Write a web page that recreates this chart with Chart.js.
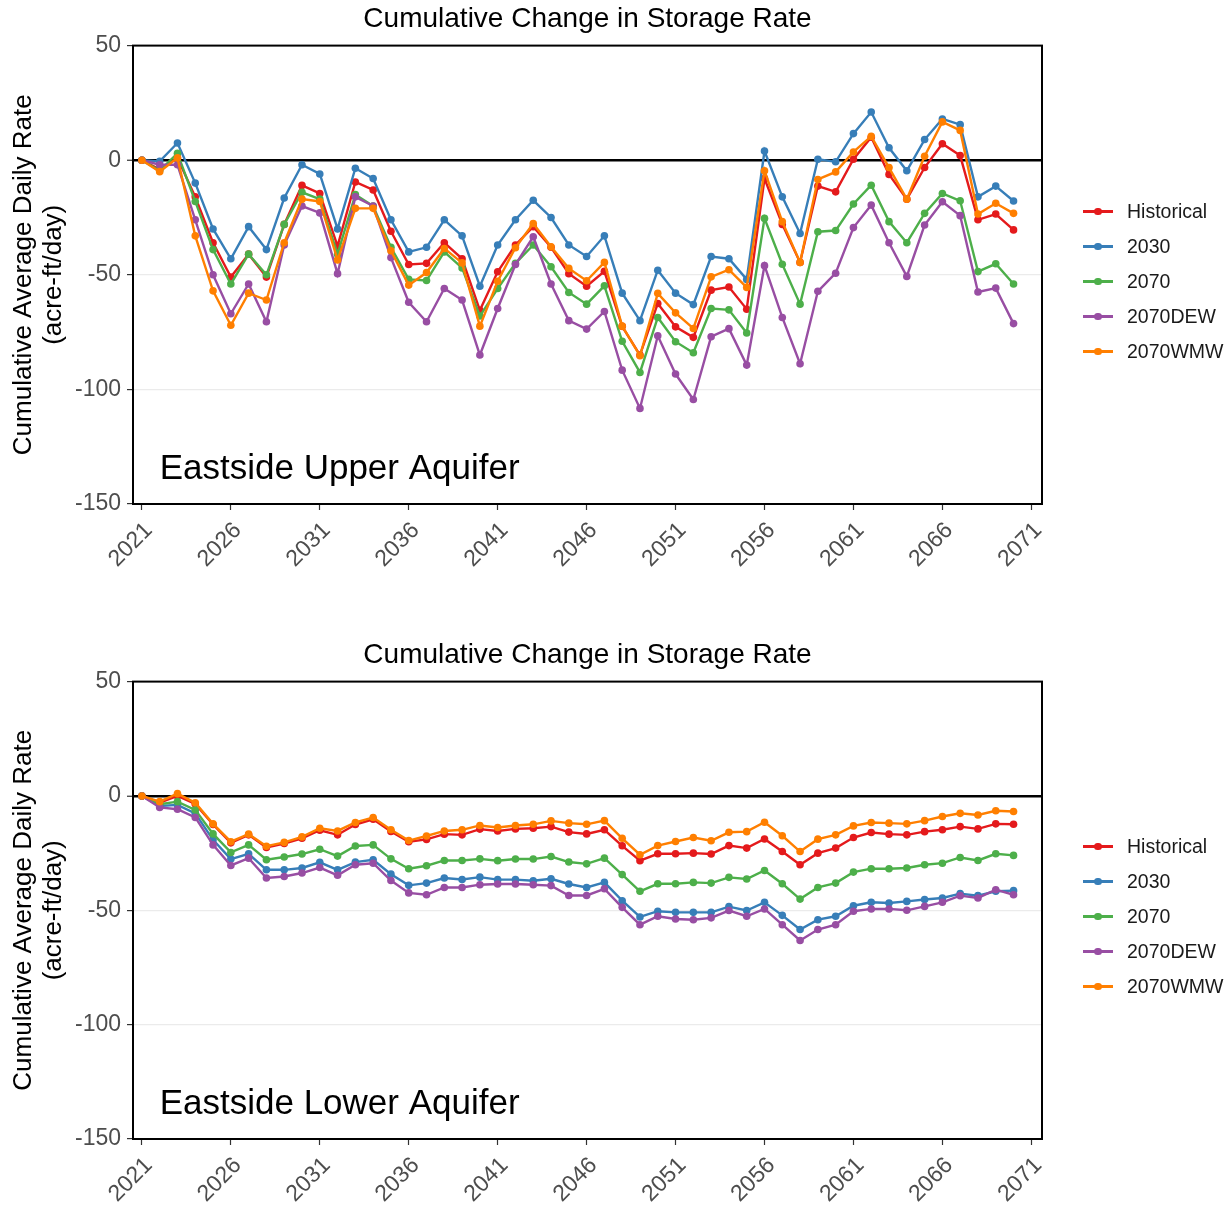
<!DOCTYPE html>
<html>
<head>
<meta charset="utf-8">
<script src="https://cdn.jsdelivr.net/npm/chart.js@4.4.1/dist/chart.umd.min.js"></script>
<style>
    body { margin: 0; background: #fff; font-family: "Liberation Sans", Arial, sans-serif; }
    .panel { position: absolute; left: 0; width: 1230px; }
    .legend { position: absolute; left: 1083px; font-size: 19.5px; color: #1a1a1a; }
    .legend-item { position: absolute; left: 0; height: 24px; width: 150px; white-space: nowrap; }
    .legend-line { position: absolute; left: 0; top: 11px; width: 30px; height: 2.5px; }
    .legend-dot { position: absolute; left: 11px; top: 8.5px; width: 7.5px; height: 7.5px; border-radius: 50%; }
    .legend-text { position: absolute; left: 44px; top: 0; line-height: 24px; }
</style>
</head>
<body>
<div class="panel" style="top:0;height:600px;"><canvas id="upperChart" width="1230" height="600"></canvas></div>
<div class="legend" id="upperLegend" style="top:199px;"></div>
<div class="panel" style="top:636px;height:569px;"><canvas id="lowerChart" width="1230" height="569"></canvas></div>
<div class="legend" id="lowerLegend" style="top:834px;"></div>

<script>
// years 2021..2070, one value per year
const years = [
    2021, 2022, 2023, 2024, 2025, 2026, 2027, 2028, 2029, 2030,
    2031, 2032, 2033, 2034, 2035, 2036, 2037, 2038, 2039, 2040,
    2041, 2042, 2043, 2044, 2045, 2046, 2047, 2048, 2049, 2050,
    2051, 2052, 2053, 2054, 2055, 2056, 2057, 2058, 2059, 2060,
    2061, 2062, 2063, 2064, 2065, 2066, 2067, 2068, 2069, 2070
];
const xTicks = [2021, 2026, 2031, 2036, 2041, 2046, 2051, 2056, 2061, 2066, 2071];
const yTicks = [50, 0, -50, -100, -150];
const seriesNames = ['Historical', '2030', '2070', '2070DEW', '2070WMW'];

// Eastside Upper Aquifer
const upperHistorical = [
    0, -4, 1, -16, -36, -51, -41, -51, -28, -11,
    -14.5, -37.5, -9.5, -13, -31, -45.5, -45, -36, -43, -65.5,
    -48.7, -37, -29, -38, -49.5, -55, -48.5, -72.5, -85, -62.5,
    -72.7, -77.3, -56.7, -55.3, -65, -8, -28, -44.6, -11.3, -13.8,
    0.4, 10, -6.2, -17, -3.2, 7.2, 2, -26, -23.5, -30.4
];
const upper2030 = [
    0, -0.5, 7.5, -10, -30, -43, -29, -39, -16.5, -2,
    -6, -30, -3.5, -8, -26, -40, -38, -26, -33, -55,
    -37, -26, -17.5, -25, -37, -42, -33, -58, -70, -48,
    -58, -63, -42, -43, -52, 4, -16, -32, 0.4, -0.7,
    11.6, 21, 5.4, -4.6, 9, 18, 15.5, -16, -11.3, -17.8
];
const upper2070 = [
    0, -4.5, 3, -18, -39, -54, -41, -50, -28, -14,
    -17, -41, -15, -20, -38, -52, -52.5, -40, -47, -68,
    -56, -45, -37, -46.5, -57.7, -62.8, -54.8, -79, -92.6, -68.6,
    -79.2, -84, -64.7, -65.3, -75.4, -25.4, -45.4, -62.8, -31.2, -30.7,
    -19.1, -10.9, -26.8, -36, -23.2, -14.5, -17.7, -48.6, -45.2, -54
];
const upper2070DEW = [
    0, -2, -2, -26, -50, -67, -54, -70.5, -37, -20,
    -23, -49.5, -16, -20, -42.5, -62, -70.5, -56, -61, -85,
    -64.7, -45.5, -33.4, -54, -70, -73.7, -66, -91.6, -108.3, -76.6,
    -93.3, -104.4, -77, -73.5, -89.4, -46, -68.6, -88.8, -57.2, -49.3,
    -29.4, -19.6, -36, -50.7, -28.3, -18.1, -24.2, -57.5, -55.8, -71.3
];
const upper2070WMW = [
    0, -5, 1, -33, -57, -72, -58, -61, -36, -17,
    -18, -43.5, -21, -21, -39.5, -54.5, -49, -38.5, -44.8, -72.4,
    -52.8, -38.2, -27.6, -37.8, -47.2, -52.6, -44.6, -72.4, -85.3, -58.1,
    -66.6, -73.4, -50.9, -47.8, -55.5, -4.6, -26.8, -44.6, -8.4, -5.1,
    3.6, 10.4, -3.2, -17, 1.7, 16.7, 13, -23.5, -18.8, -23.2
];

// Eastside Lower Aquifer
const lowerHistorical = [
    0, -3, 0, -3.5, -12.5, -20.5, -17, -22.5, -20.8, -18.5,
    -15, -17, -12.5, -10.2, -15.5, -20, -19, -16.7, -17, -14.5,
    -15.3, -14.4, -14.1, -13.4, -15.8, -16.6, -14.8, -21.8, -28.3, -25.3,
    -25.3, -25, -25.4, -21.7, -22.8, -18.8, -24.3, -30.1, -25, -22.8,
    -18.2, -16, -16.7, -17, -15.6, -14.8, -13.4, -14.4, -12.2, -12.4
];
const lower2030 = [
    0, -4.4, -3.9, -7.6, -19.2, -27.6, -25.3, -32.3, -32.3, -31.5,
    -29, -32.3, -28.9, -27.9, -34.2, -39.1, -38.1, -35.9, -36.5, -35.5,
    -36.6, -36.6, -37.1, -36.2, -38.5, -40, -37.8, -45.8, -52.9, -50.4,
    -50.9, -50.9, -50.9, -48.4, -50.1, -46.5, -52.2, -58.4, -54.1, -52.6,
    -48, -46.5, -46.8, -46.1, -45.3, -44.6, -42.7, -43.6, -41.7, -41.4
];
const lower2070 = [
    0, -3.6, -2.5, -6.1, -16.6, -24.7, -21.4, -27.9, -26.7, -25.4,
    -23.3, -26.3, -21.9, -21.4, -27.5, -31.8, -30.5, -28.2, -28.2, -27.5,
    -28.3, -27.6, -27.6, -26.5, -28.9, -29.7, -27.2, -34.4, -41.7, -38.4,
    -38.4, -37.8, -38.1, -35.6, -36.3, -32.6, -38.4, -45.1, -40, -38.1,
    -33.3, -31.8, -31.8, -31.5, -30.1, -29.4, -26.9, -28.2, -25.3, -26
];
const lower2070DEW = [
    0, -5, -5.8, -9.4, -21.4, -30.4, -27.2, -35.9, -35.2, -33.7,
    -31.3, -34.7, -30.1, -29.4, -37, -42.4, -43.2, -40, -40, -38.8,
    -38.5, -38.5, -38.8, -39.2, -43.5, -43.5, -40.6, -48.7, -56.3, -52.6,
    -53.8, -54.1, -53.3, -50.1, -52.6, -49.4, -56.3, -63.2, -58.4, -56.3,
    -50.4, -49.4, -49.4, -50, -48.3, -46.5, -43.6, -44.6, -41, -43.2
];
const lower2070WMW = [
    0, -2.5, 1, -3, -12.2, -20, -16.7, -22, -20.3, -17.9,
    -14.1, -15.3, -11.6, -9.4, -14.8, -19.5, -17.5, -15.3, -14.8, -12.9,
    -13.8, -12.9, -12.4, -10.9, -11.9, -12.4, -10.8, -18.5, -25.7, -21.7,
    -19.9, -18.2, -19.6, -15.9, -15.6, -11.5, -17.4, -24.3, -18.9, -17,
    -13.1, -11.6, -11.9, -12.2, -10.8, -9, -7.6, -8.3, -6.5, -6.8
];

const colors = ['#E41A1C', '#377EB8', '#4DAF4A', '#984EA3', '#FF7F00'];
const fontFamily = '"Liberation Sans", Arial, sans-serif';

function buildDatasets(seriesList) {
    return seriesList.map(function (values, i) {
        return {
            label: seriesNames[i],
            data: years.map((yr, j) => ({ x: yr, y: values[j] })),
            borderColor: colors[i],
            backgroundColor: colors[i],
            pointBackgroundColor: colors[i],
            pointBorderWidth: 0,
            pointRadius: 3.8,
            borderWidth: 2.4,
            tension: 0,
            order: seriesList.length - i   // last series drawn on top, like ggplot
        };
    });
}

function buildLegend(id) {
    const box = document.getElementById(id);
    seriesNames.forEach(function (name, i) {
        const item = document.createElement('div');
        item.className = 'legend-item';
        item.style.top = (i * 35) + 'px';
        item.innerHTML = '<span class="legend-line" style="background:' + colors[i] + '"></span>' +
            '<span class="legend-dot" style="background:' + colors[i] + '"></span>' +
            '<span class="legend-text">' + name + '</span>';
        box.appendChild(item);
    });
}

// black frame around the panel + the aquifer label
function panelPlugin(label) {
    return {
        id: 'panelDecor',
        afterDraw: function (chart) {
            const ctx = chart.ctx;
            const a = chart.chartArea;
            const xs = chart.scales.x;
            const ys = chart.scales.y;
            ctx.save();
            ctx.strokeStyle = '#000';
            ctx.lineWidth = 2;
            ctx.strokeRect(a.left, a.top, a.right - a.left, a.bottom - a.top);
            ctx.fillStyle = '#000';
            ctx.font = '35px ' + fontFamily;
            ctx.textAlign = 'left';
            ctx.textBaseline = 'middle';
            ctx.fillText(label, xs.getPixelForValue(2022), ys.getPixelForValue(-135));
            ctx.restore();
        }
    };
}

function makeChart(canvasId, seriesList, label, plotBottom) {
    const canvas = document.getElementById(canvasId);
    const xAxisHeight = canvas.height - plotBottom;
    return new Chart(canvas.getContext('2d'), {
        type: 'line',
        data: { datasets: buildDatasets(seriesList) },
        options: {
            responsive: false,
            animation: false,
            layout: { padding: { left: 0, right: 188, top: 0, bottom: 0 } },
            plugins: {
                legend: { display: false },
                tooltip: { enabled: false },
                title: {
                    display: true,
                    fullSize: false,
                    text: 'Cumulative Change in Storage Rate',
                    color: '#000',
                    font: { family: fontFamily, size: 28, weight: 'normal' },
                    padding: { top: 2, bottom: 10 }
                }
            },
            scales: {
                x: {
                    type: 'linear',
                    min: 2020.5,
                    max: 2071.6,
                    afterBuildTicks: function (axis) {
                        axis.ticks = xTicks.map(v => ({ value: v }));
                    },
                    afterFit: function (axis) { axis.height = xAxisHeight; },
                    ticks: {
                        color: '#4d4d4d',
                        font: { family: fontFamily, size: 23 },
                        minRotation: 45,
                        maxRotation: 45,
                        padding: 7,
                        labelOffset: 7,
                        autoSkip: false,
                        callback: v => String(v)
                    },
                    grid: { drawOnChartArea: false, tickLength: 6, tickColor: '#333', tickWidth: 1.2 },
                    border: { display: false }
                },
                y: {
                    min: -150,
                    max: 50,
                    afterBuildTicks: function (axis) {
                        axis.ticks = yTicks.map(v => ({ value: v }));
                    },
                    afterFit: function (axis) { axis.width = 133; },
                    ticks: {
                        color: '#4d4d4d',
                        font: { family: fontFamily, size: 23 },
                        padding: 6,
                        callback: v => String(v)
                    },
                    grid: {
                        color: function (c) {
                            const v = c.tick ? c.tick.value : null;
                            if (v === 0) return '#000';
                            if (v === 50 || v === -150) return 'rgba(0,0,0,0)';
                            return '#ebebeb';
                        },
                        lineWidth: c => (c.tick && c.tick.value === 0 ? 2.5 : 1.2),
                        tickLength: 6,
                        tickColor: '#333',
                        tickWidth: 1.2
                    },
                    border: { display: false },
                    title: {
                        display: true,
                        text: ['Cumulative Average Daily Rate', '(acre-ft/day)'],
                        color: '#000',
                        font: { family: fontFamily, size: 26, lineHeight: 1.15 },
                        padding: { top: 9, bottom: 0 }
                    }
                }
            }
        },
        plugins: [panelPlugin(label)]
    });
}

document.addEventListener('DOMContentLoaded', function () {
    makeChart('upperChart',
        [upperHistorical, upper2030, upper2070, upper2070DEW, upper2070WMW],
        'Eastside Upper Aquifer', 504);
    makeChart('lowerChart',
        [lowerHistorical, lower2030, lower2070, lower2070DEW, lower2070WMW],
        'Eastside Lower Aquifer', 503);
    buildLegend('upperLegend');
    buildLegend('lowerLegend');
});
</script>
</body>
</html>
